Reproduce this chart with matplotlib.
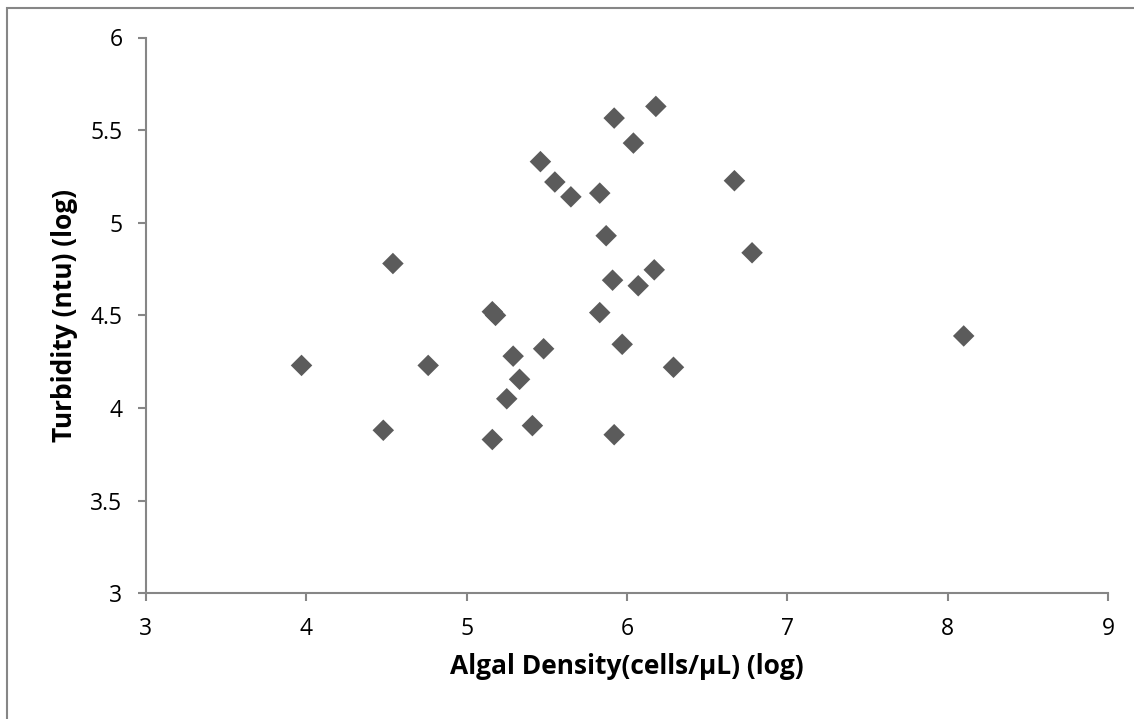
import numpy as np
import matplotlib.pyplot as plt
from matplotlib.patches import Rectangle

# algal density (log) vs turbidity (log)
algal_density = [3.97, 4.48, 4.54, 4.76, 5.16, 5.16, 5.18, 5.25, 5.29, 5.33,
                 5.41, 5.46, 5.48, 5.55, 5.65, 5.83, 5.83, 5.87, 5.91, 5.92,
                 5.92, 5.97, 6.04, 6.07, 6.17, 6.18, 6.29, 6.67, 6.78, 8.10]
turbidity = [4.23, 3.88, 4.78, 4.23, 3.83, 4.52, 4.50, 4.05, 4.28, 4.155,
             3.905, 5.33, 4.32, 5.22, 5.14, 5.16, 4.515, 4.93, 4.69, 5.565,
             3.856, 4.344, 5.43, 4.66, 4.746, 5.628, 4.22, 5.227, 4.838, 4.389]

x_ticks = [3, 4, 5, 6, 7, 8, 9]
y_ticks = [3, 3.5, 4, 4.5, 5, 5.5, 6]
y_tick_labels = ['3', '3.5', '4', '4.5', '5', '5.5', '6']

plt.rcParams['font.family'] = ['Open Sans', 'DejaVu Sans']

W, H = 1134, 719
fig = plt.figure(figsize=(W / 100, H / 100), dpi=100)
ax = fig.add_axes([146 / W, (H - 593.3) / H, (1108 - 146) / W, (593.3 - 37.5) / H])

ax.scatter(algal_density, turbidity, marker='D', s=120, color='#5b5b5b',
           edgecolors='none', zorder=3, clip_on=False)

ax.set_xlim(3, 9)
ax.set_ylim(3, 6)
ax.set_xticks(x_ticks)
ax.set_yticks(y_ticks)
ax.set_yticklabels(y_tick_labels)

axis_grey = '#868686'
for side in ['top', 'right']:
    ax.spines[side].set_visible(False)
for side in ['left', 'bottom']:
    ax.spines[side].set_color(axis_grey)
    ax.spines[side].set_linewidth(1.5)
ax.tick_params(direction='out', length=6, width=1.5, color=axis_grey,
               labelsize=16.5, labelcolor='black')
ax.tick_params(axis='x', pad=11)
ax.tick_params(axis='y', pad=11)

ax.set_xlabel('Algal Density(cells/μL) (log)', fontsize=19, fontweight='bold')
ax.set_ylabel('Turbidity (ntu) (log)', fontsize=19, fontweight='bold')
ax.xaxis.set_label_coords(0.5, -0.107)
ax.yaxis.label.set_va('center')
ax.yaxis.set_label_coords(-0.0852, 0.5)

# chart area border (Excel style), cut off on right and bottom
fig.patches.append(Rectangle((7 / W, -0.1), 1.2, (H - 8) / H + 0.1,
                             transform=fig.transFigure, fill=False,
                             edgecolor=axis_grey, linewidth=1.5))

fig.savefig('out.png', dpi=100)
